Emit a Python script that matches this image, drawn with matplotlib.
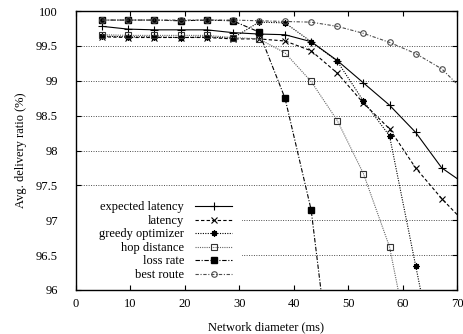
"""
Delivery ratio vs network diameter for the routing metrics.
"""
import matplotlib
matplotlib.use("Agg")
import matplotlib.pyplot as plt
from matplotlib.patches import Rectangle

plt.rcParams["font.family"] = ["Liberation Serif", "DejaVu Serif"]
plt.rcParams["font.size"] = 9

# network diameter (ms)
diameter = [4.8, 9.6, 14.4, 19.2, 24.0, 28.8, 33.6, 38.4, 43.2, 48.0, 52.8, 57.6, 62.4, 67.2, 72.0]

expected_latency = [99.78, 99.74, 99.73, 99.73, 99.73, 99.69, 99.67, 99.66, 99.56, 99.29,
                    98.97, 98.65, 98.26, 97.75, 97.49]
latency = [99.63, 99.62, 99.62, 99.62, 99.62, 99.60, 99.60, 99.57, 99.43, 99.11,
           98.68, 98.31, 97.75, 97.31, 96.92]
greedy_optimizer = [99.64, 99.63, 99.63, 99.62, 99.63, 99.61, 99.84, 99.83, 99.56, 99.28,
                    98.71, 98.21, 96.35, 94.50]
hop_distance = [99.66, 99.65, 99.65, 99.65, 99.65, 99.62, 99.60, 99.40, 98.99, 98.43,
                97.67, 96.62, 94.75]
loss_rate = [99.87, 99.87, 99.87, 99.86, 99.87, 99.86, 99.70, 98.75, 97.15, 94.08]
best_route = [99.87, 99.87, 99.87, 99.87, 99.87, 99.87, 99.86, 99.85, 99.84, 99.78,
              99.68, 99.55, 99.39, 99.17, 98.80]

x_ticks = [0, 10, 20, 30, 40, 50, 60, 70]
y_ticks = [96, 96.5, 97, 97.5, 98, 98.5, 99, 99.5, 100]
y_ticklabels = ["96", "96.5", "97", "97.5", "98", "98.5", "99", "99.5", "100"]

fig = plt.figure(figsize=(4.64, 3.34), dpi=100)
ax = fig.add_axes([76 / 464, 1 - 290 / 334, 381 / 464, 279 / 334])

lw = 0.8
ax.plot(diameter[:len(expected_latency)], expected_latency, color="black", lw=lw,
        ls="-", marker="+", ms=5.5, mew=0.8, label="expected latency")
ax.plot(diameter[:len(latency)], latency, color="black", lw=lw,
        ls=(0, (3, 2)), marker="x", ms=4, mew=0.8, label="latency")
ax.plot(diameter[:len(greedy_optimizer)], greedy_optimizer, color="black", lw=lw,
        ls=(0, (1, 1.2)), marker=(8, 2, 0), ms=4.5, mew=0.9, label="greedy optimizer")
ax.plot(diameter[:len(hop_distance)], hop_distance, color="0.4", lw=lw,
        ls=(0, (1, 1)), marker="s", ms=4.5, mfc="none", mec="0.2", mew=0.8,
        label="hop distance")
ax.plot(diameter[:len(loss_rate)], loss_rate, color="black", lw=lw,
        ls=(0, (4, 1.5, 1, 1.5)), marker="s", ms=4.5, mfc="black", mec="black",
        label="loss rate")
ax.plot(diameter[:len(best_route)], best_route, color="0.3", lw=lw,
        ls=(0, (3, 1.5, 1, 1.5)), marker="o", ms=4, mfc="none", mec="0.3", mew=0.8,
        label="best route")

ax.set_xlim(0, 70)
ax.set_ylim(96, 100)
ax.set_xticks(x_ticks)
ax.set_yticks(y_ticks)
ax.set_yticklabels(y_ticklabels)
ax.tick_params(direction="in", length=3.5, width=0.8, top=True, right=True)
ax.tick_params(axis="y", pad=13)
ax.tick_params(axis="x", pad=6)
for s in ax.spines.values():
    s.set_linewidth(1.0)
ax.yaxis.grid(True, linestyle=(0, (1, 1.5)), color="0.3", lw=0.7)

ax.set_xlabel("Network diameter (ms)", labelpad=8)
ax.set_ylabel("Avg. delivery ratio (%)", labelpad=6)

# white key background hides the grid behind the legend
ax.add_patch(Rectangle((0, 0.03), 0.436, 0.32, transform=ax.transAxes,
                       facecolor="white", edgecolor="none", zorder=1.8))
leg = ax.legend(loc="upper right", bbox_to_anchor=(0.425, 0.34), markerfirst=False,
                frameon=False, borderpad=0, handlelength=2.9, handletextpad=0.9,
                labelspacing=0.12, fontsize=9)

fig.savefig("out.png", dpi=100)
